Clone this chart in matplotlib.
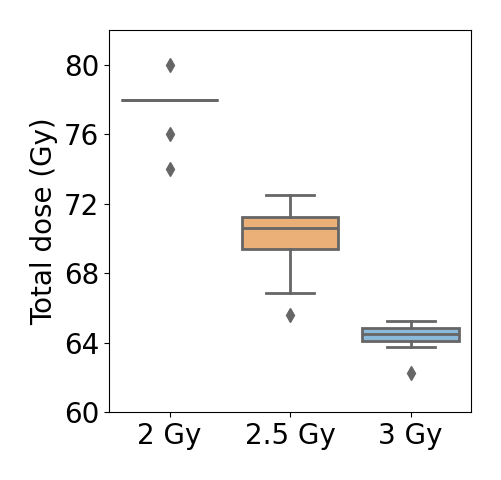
import matplotlib
matplotlib.use("Agg")
import matplotlib.pyplot as plt

categories = ["2 Gy", "2.5 Gy", "3 Gy"]
medians = [78.0, 70.63, 64.5]
q1s = [78.0, 69.4, 64.1]
q3s = [78.0, 71.26, 64.87]
whisker_low = [78.0, 66.89, 63.78]
whisker_high = [78.0, 72.52, 65.27]
fliers = [[80.0, 76.0, 74.0], [65.6], [62.24]]
box_colors = ["#7aa6cc", "#ebaf78", "#8bb9da"]
y_ticks = [60, 64, 68, 72, 76, 80]

line_gray = "#666666"

fig = plt.figure(figsize=(5.01, 4.8), dpi=100)
ax = fig.add_axes([0.218, 0.141, 0.722, 0.7965])

stats = []
for i, c in enumerate(categories):
    stats.append(dict(label=c, med=medians[i], q1=q1s[i], q3=q3s[i],
                      whislo=whisker_low[i], whishi=whisker_high[i],
                      fliers=fliers[i]))

bp = ax.bxp(stats, positions=range(len(categories)), widths=0.8,
            patch_artist=True, showfliers=True,
            boxprops=dict(edgecolor=line_gray, linewidth=2),
            medianprops=dict(color=line_gray, linewidth=2),
            whiskerprops=dict(color=line_gray, linewidth=2),
            capprops=dict(color=line_gray, linewidth=2),
            flierprops=dict(marker="d", markerfacecolor=line_gray,
                            markeredgecolor=line_gray, markersize=7.5))
for patch, col in zip(bp["boxes"], box_colors):
    patch.set_facecolor(col)
for cap in bp["caps"]:
    x = cap.get_xdata()
    mid = (x[0] + x[1]) / 2
    cap.set_xdata([mid - 0.2, mid + 0.2])

ax.set_xlim(-0.5, 2.5)
ax.set_ylim(60, 82)
ax.set_yticks(y_ticks)
ax.set_xticks(range(len(categories)))
ax.set_xticklabels(categories)
ax.tick_params(labelsize=20)
ax.set_ylabel("Total dose (Gy)", fontsize=20)

fig.savefig("out.png", dpi=100)
